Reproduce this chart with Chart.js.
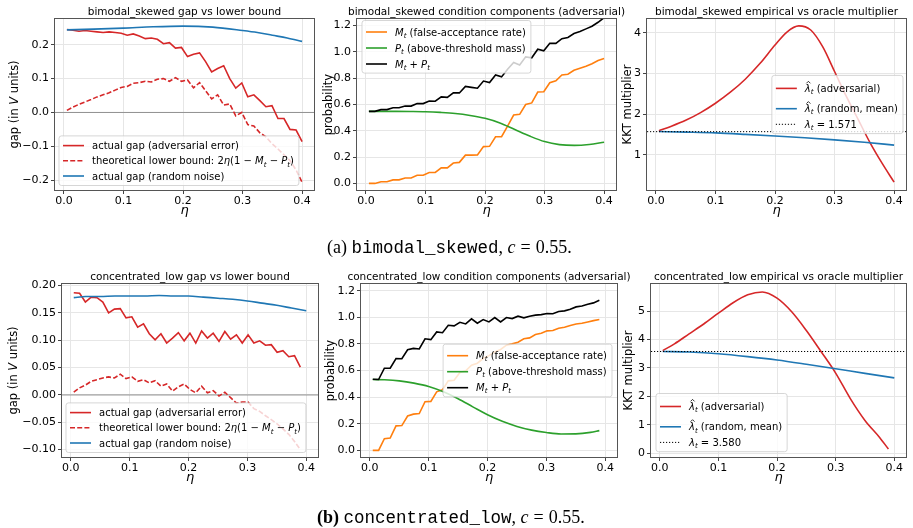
<!DOCTYPE html>
<html>
<head>
<meta charset="utf-8">
<script src="https://cdn.jsdelivr.net/npm/chart.js@4.4.0/dist/chart.umd.min.js"></script>
<style>
  html, body { margin: 0; background: #fff; }
  body { width: 913px; height: 528px; position: relative; overflow: hidden; }
  canvas { position: absolute; left: 0; top: 0; }
  .cap { position: absolute; font-family: "Liberation Serif"; font-size: 18px; line-height: 20px; white-space: nowrap; color: #000; }
  .cap .tt { font-family: "Liberation Mono"; font-size: 17.5px; }
  .cap .sp { display: inline-block; width: 5px; }
</style>
</head>
<body>
<canvas id="p1" width="913" height="528"></canvas>
<canvas id="p2" width="913" height="528"></canvas>
<canvas id="p3" width="913" height="528"></canvas>
<canvas id="p4" width="913" height="528"></canvas>
<canvas id="p5" width="913" height="528"></canvas>
<canvas id="p6" width="913" height="528"></canvas>
<div class="cap" style="left:327px;top:237px">(a) <span class="tt">bimodal_skewed</span>, <i>c</i><span class="sp"></span>=<span class="sp"></span>0.55.</div>
<div class="cap" style="left:317px;top:507px"><b>(b)</b> <span class="tt">concentrated_low</span>, <i>c</i><span class="sp"></span>=<span class="sp"></span>0.55.</div>
<script>
// ---- data: bimodal_skewed (top row) ----
const etaTop = [0.005, 0.0151, 0.0253, 0.0354, 0.0455, 0.0556, 0.0658, 0.0759, 0.0860, 0.0962,
  0.1063, 0.1164, 0.1265, 0.1367, 0.1468, 0.1569, 0.1671, 0.1772, 0.1873, 0.1974,
  0.2076, 0.2177, 0.2278, 0.2379, 0.2481, 0.2582, 0.2683, 0.2785, 0.2886, 0.2987,
  0.3088, 0.3190, 0.3291, 0.3392, 0.3494, 0.3595, 0.3696, 0.3797, 0.3899, 0.4000];
const gapAdvTop = [0.245, 0.243, 0.240, 0.242, 0.240, 0.238, 0.236, 0.238, 0.236, 0.234,
  0.228, 0.232, 0.226, 0.218, 0.220, 0.216, 0.203, 0.206, 0.190, 0.192,
  0.165, 0.172, 0.176, 0.150, 0.120, 0.130, 0.138, 0.100, 0.072, 0.087,
  0.046, 0.052, 0.035, 0.017, 0.020, -0.018, -0.018, -0.050, -0.052, -0.086];
const boundTop = [0.006, 0.016, 0.024, 0.031, 0.038, 0.046, 0.052, 0.058, 0.066, 0.074,
  0.077, 0.086, 0.088, 0.092, 0.090, 0.098, 0.100, 0.092, 0.103, 0.092,
  0.096, 0.073, 0.088, 0.064, 0.040, 0.052, 0.022, 0.025, -0.010, 0.000,
  -0.036, -0.040, -0.060, -0.072, -0.092, -0.108, -0.125, -0.142, -0.170, -0.206];
const rndEtaTop = [0.005, 0.05, 0.1, 0.15, 0.2, 0.25, 0.3, 0.325, 0.35, 0.375, 0.4];
const gapRndTop = [0.244, 0.246, 0.249, 0.253, 0.255, 0.252, 0.242, 0.236, 0.228, 0.220, 0.210];
const mAdvTop = [0.000, 0.000, 0.013, 0.013, 0.027, 0.027, 0.041, 0.041, 0.062, 0.062,
  0.083, 0.083, 0.118, 0.118, 0.155, 0.160, 0.215, 0.215, 0.217, 0.280,
  0.282, 0.355, 0.355, 0.435, 0.520, 0.525, 0.600, 0.612, 0.695, 0.697,
  0.765, 0.780, 0.825, 0.830, 0.860, 0.875, 0.890, 0.910, 0.935, 0.950];
const pEtaTop = [0.005, 0.025, 0.05, 0.075, 0.1, 0.125, 0.15, 0.175, 0.2, 0.225, 0.25, 0.275, 0.3, 0.325, 0.35, 0.375, 0.4];
const pAdvTop = [0.548, 0.548, 0.548, 0.547, 0.545, 0.540, 0.532, 0.517, 0.495, 0.460, 0.410, 0.360, 0.318, 0.295, 0.289, 0.296, 0.313];
const mpAdvTop = [0.548, 0.548, 0.561, 0.561, 0.575, 0.575, 0.589, 0.588, 0.608, 0.607,
  0.627, 0.625, 0.658, 0.654, 0.688, 0.688, 0.737, 0.730, 0.724, 0.778,
  0.767, 0.825, 0.810, 0.868, 0.920, 0.900, 0.962, 0.955, 1.020, 1.008,
  1.065, 1.065, 1.100, 1.110, 1.140, 1.155, 1.175, 1.195, 1.225, 1.260];
const lamEtaTop = [0.005, 0.025, 0.05, 0.075, 0.1, 0.125, 0.15, 0.175, 0.2, 0.22, 0.24, 0.26, 0.28, 0.3, 0.32, 0.34, 0.36, 0.38, 0.4];
const lamAdvTop = [1.595, 1.70, 1.85, 2.04, 2.27, 2.54, 2.86, 3.25, 3.70, 4.02, 4.17, 4.07, 3.66, 3.05, 2.43, 1.86, 1.29, 0.79, 0.33];
const lamRndEtaTop = [0.005, 0.05, 0.1, 0.15, 0.2, 0.25, 0.3, 0.35, 0.4];
const lamRndTop = [1.575, 1.56, 1.54, 1.505, 1.465, 1.42, 1.37, 1.31, 1.24];
const lamOracleTop = 1.571;

// ---- data: concentrated_low (bottom row) ----
const etaBot = [0.005, 0.0149, 0.0247, 0.0346, 0.0445, 0.0544, 0.0642, 0.0741, 0.0840, 0.0938,
  0.1037, 0.1136, 0.1235, 0.1333, 0.1432, 0.1531, 0.1629, 0.1728, 0.1827, 0.1926,
  0.2024, 0.2123, 0.2222, 0.2321, 0.2419, 0.2518, 0.2617, 0.2715, 0.2814, 0.2913,
  0.3012, 0.3110, 0.3209, 0.3308, 0.3406, 0.3505, 0.3604, 0.3703, 0.3801, 0.3900];
const gapAdvBot = [0.187, 0.186, 0.170, 0.179, 0.178, 0.170, 0.150, 0.157, 0.158, 0.141,
  0.143, 0.124, 0.130, 0.112, 0.101, 0.112, 0.095, 0.104, 0.114, 0.099,
  0.113, 0.095, 0.117, 0.104, 0.113, 0.098, 0.116, 0.102, 0.110, 0.095,
  0.110, 0.095, 0.099, 0.091, 0.092, 0.078, 0.081, 0.070, 0.072, 0.051];
const boundBot = [0.005, 0.013, 0.018, 0.025, 0.028, 0.031, 0.033, 0.031, 0.038, 0.030,
  0.033, 0.025, 0.028, 0.022, 0.026, 0.016, 0.020, 0.007, 0.015, 0.020,
  0.010, 0.004, 0.016, 0.004, 0.008, -0.002, 0.005, -0.005, -0.015, -0.013,
  -0.013, -0.025, -0.030, -0.038, -0.045, -0.053, -0.062, -0.072, -0.085, -0.100];
const rndEtaBot = [0.005, 0.025, 0.05, 0.075, 0.1, 0.125, 0.15, 0.175, 0.2, 0.225, 0.25, 0.275, 0.3, 0.325, 0.35, 0.375, 0.4];
const gapRndBot = [0.178, 0.180, 0.180, 0.181, 0.181, 0.181, 0.182, 0.181, 0.181, 0.179, 0.177, 0.175, 0.172, 0.168, 0.164, 0.159, 0.154];
const mAdvBot = [0.000, 0.000, 0.088, 0.092, 0.184, 0.186, 0.258, 0.272, 0.276, 0.365,
  0.368, 0.440, 0.455, 0.522, 0.526, 0.585, 0.598, 0.640, 0.655, 0.690,
  0.712, 0.740, 0.758, 0.790, 0.800, 0.812, 0.838, 0.845, 0.870, 0.880,
  0.898, 0.900, 0.918, 0.925, 0.938, 0.950, 0.955, 0.965, 0.975, 0.983];
const pEtaBot = [0.005, 0.025, 0.05, 0.075, 0.1, 0.125, 0.15, 0.175, 0.2, 0.225, 0.25, 0.275, 0.3, 0.325, 0.35, 0.375, 0.39];
const pAdvBot = [0.532, 0.530, 0.522, 0.505, 0.480, 0.440, 0.388, 0.327, 0.267, 0.218, 0.180, 0.152, 0.134, 0.123, 0.124, 0.135, 0.148];
const mpAdvBot = [0.534, 0.532, 0.617, 0.617, 0.690, 0.688, 0.756, 0.766, 0.762, 0.838,
  0.832, 0.890, 0.884, 0.940, 0.935, 0.962, 0.950, 0.988, 0.955, 0.983,
  0.965, 0.998, 0.965, 0.998, 0.990, 1.008, 0.996, 1.008, 1.016, 1.020,
  1.028, 1.026, 1.044, 1.048, 1.060, 1.078, 1.084, 1.098, 1.108, 1.128];
const lamEtaBot = [0.005, 0.025, 0.05, 0.075, 0.1, 0.125, 0.15, 0.175, 0.2, 0.225, 0.25, 0.275, 0.3, 0.325, 0.35, 0.375, 0.39];
const lamAdvBot = [3.61, 3.85, 4.20, 4.55, 4.93, 5.30, 5.58, 5.68, 5.46, 4.98, 4.32, 3.58, 2.82, 1.92, 1.15, 0.55, 0.14];
const lamRndEtaBot = [0.005, 0.05, 0.1, 0.15, 0.2, 0.25, 0.3, 0.35, 0.4];
const lamRndBot = [3.58, 3.56, 3.50, 3.40, 3.28, 3.13, 2.97, 2.81, 2.65];
const lamOracleBot = 3.580;

// ---- ticks ----
const xTicks = [0, 0.1, 0.2, 0.3, 0.4];
const xTickLabels = ['0.0', '0.1', '0.2', '0.3', '0.4'];
const gapTicksTop = [-0.2, -0.1, 0, 0.1, 0.2];
const gapLabelsTop = ['\u22120.2', '\u22120.1', '0.0', '0.1', '0.2'];
const gapTicksBot = [-0.10, -0.05, 0, 0.05, 0.10, 0.15, 0.20];
const gapLabelsBot = ['\u22120.10', '\u22120.05', '0.00', '0.05', '0.10', '0.15', '0.20'];
const probTicks = [0, 0.2, 0.4, 0.6, 0.8, 1.0, 1.2];
const probLabels = ['0.0', '0.2', '0.4', '0.6', '0.8', '1.0', '1.2'];
const kktTicksTop = [1, 2, 3, 4];
const kktLabelsTop = ['1', '2', '3', '4'];
const kktTicksBot = [0, 1, 2, 3, 4, 5];
const kktLabelsBot = ['0', '1', '2', '3', '4', '5'];

// ---- legend labels (i: italic, s: subscript, h: italic with hat) ----
const lblGapAdv = ['actual gap (adversarial error)'];
const lblBound = ['theoretical lower bound: 2', {i: '\u03b7'}, '(1 \u2212 ', {i: 'M'}, {s: 't'}, ' \u2212 ', {i: 'P'}, {s: 't'}, ')'];
const lblGapRnd = ['actual gap (random noise)'];
const lblM = [{i: 'M'}, {s: 't'}, ' (false-acceptance rate)'];
const lblP = [{i: 'P'}, {s: 't'}, ' (above-threshold mass)'];
const lblMP = [{i: 'M'}, {s: 't'}, ' + ', {i: 'P'}, {s: 't'}];
const lblLamAdv = [{h: '\u03bb'}, {s: 't'}, ' (adversarial)'];
const lblLamRnd = [{h: '\u03bb'}, {s: 't'}, ' (random, mean)'];
const lblOracle = v => [{i: '\u03bb'}, {s: 't'}, ' = ' + v.toFixed(3)];

const RED = '#d62728', BLUE = '#1f77b4', ORANGE = '#ff7f0e', GREEN = '#2ca02c', BLACK = '#000000';
const FONT = '"DejaVu Sans"';
const LW = 1.6;
const W = 913, H = 528, YW = 40, XH = 30;
const X_MIN = -0.015, X_MAX = 0.42;
const DASH = [5, 2.2], DOT = [1.2, 1.8];

const lgGap = {loc: 'll', dx: 4, dy: 4.5, dys: [13.2, 15.2, 15.2], bottom: 6};
const lgProbTop = {loc: 'ul', dx: 5, dy: 1.5, dys: [15, 16, 16], bottom: 5.6};
const lgProbBot = {loc: 'cr', dx: 5, dys: [15, 16, 16], bottom: 5.6};
const lgKktTop = {loc: 'cr', dx: 3, dys: [16.5, 20.3, 15.6], bottom: 5.8};
const lgKktBot = {loc: 'll', dx: 5, dy: 5.3, dys: [16.5, 20.3, 15.6], bottom: 5.8};

const panels = [
  {id: 'p1', area: [55, 19, 314, 190], yMin: -0.229, yMax: 0.276, yT: gapTicksTop, yL: gapLabelsTop,
   title: 'bimodal_skewed gap vs lower bound', ylabel: ['gap (in ', {i: 'V'}, ' units)'], ylabOff: 41, zero: 0, legend: lgGap,
   series: [
     {xs: etaTop, ys: gapAdvTop, color: RED, label: lblGapAdv},
     {xs: etaTop, ys: boundTop, color: RED, dash: DASH, label: lblBound},
     {xs: rndEtaTop, ys: gapRndTop, color: BLUE, smooth: true, label: lblGapRnd}]},
  {id: 'p2', area: [357, 19, 616, 190], yMin: -0.05, yMax: 1.25, yT: probTicks, yL: probLabels,
   title: 'bimodal_skewed condition components (adversarial)', ylabel: ['probability'], ylabOff: 29, legend: lgProbTop,
   series: [
     {xs: etaTop, ys: mAdvTop, color: ORANGE, label: lblM},
     {xs: pEtaTop, ys: pAdvTop, color: GREEN, smooth: true, label: lblP},
     {xs: etaTop, ys: mpAdvTop, color: BLACK, label: lblMP}]},
  {id: 'p3', area: [647, 19, 906, 190], yMin: 0.137, yMax: 4.34, yT: kktTicksTop, yL: kktLabelsTop,
   title: 'bimodal_skewed empirical vs oracle multiplier', ylabel: ['KKT multiplier'], ylabOff: 20, legend: lgKktTop, oracle: lamOracleTop,
   series: [
     {xs: lamEtaTop, ys: lamAdvTop, color: RED, smooth: true, label: lblLamAdv},
     {xs: lamRndEtaTop, ys: lamRndTop, color: BLUE, smooth: true, label: lblLamRnd}]},
  {id: 'p4', area: [62, 284, 318, 457], yMin: -0.1135, yMax: 0.203, yT: gapTicksBot, yL: gapLabelsBot,
   title: 'concentrated_low gap vs lower bound', ylabel: ['gap (in ', {i: 'V'}, ' units)'], ylabOff: 49, zero: 0, legend: lgGap,
   series: [
     {xs: etaBot, ys: gapAdvBot, color: RED, label: lblGapAdv},
     {xs: etaBot, ys: boundBot, color: RED, dash: DASH, label: lblBound},
     {xs: rndEtaBot, ys: gapRndBot, color: BLUE, smooth: true, label: lblGapRnd}]},
  {id: 'p5', area: [361, 284, 617, 457], yMin: -0.05, yMax: 1.25, yT: probTicks, yL: probLabels,
   title: 'concentrated_low condition components (adversarial)', ylabel: ['probability'], ylabOff: 31, legend: lgProbBot,
   series: [
     {xs: etaBot, ys: mAdvBot, color: ORANGE, label: lblM},
     {xs: pEtaBot, ys: pAdvBot, color: GREEN, smooth: true, label: lblP},
     {xs: etaBot, ys: mpAdvBot, color: BLACK, label: lblMP}]},
  {id: 'p6', area: [651, 284, 906, 457], yMin: -0.14, yMax: 5.96, yT: kktTicksBot, yL: kktLabelsBot,
   title: 'concentrated_low empirical vs oracle multiplier', ylabel: ['KKT multiplier'], ylabOff: 23, legend: lgKktBot, oracle: lamOracleBot,
   series: [
     {xs: lamEtaBot, ys: lamAdvBot, color: RED, smooth: true, label: lblLamAdv},
     {xs: lamRndEtaBot, ys: lamRndBot, color: BLUE, smooth: true, label: lblLamRnd}]}
];

// ---- rich text helpers ----
function segInfo(seg, fs) {
  if (typeof seg === 'string') return {t: seg, f: `${fs}px ${FONT}`, dy: 0};
  if (seg.i) return {t: seg.i, f: `italic ${fs}px ${FONT}`, dy: 0};
  if (seg.h) return {t: seg.h, f: `italic ${fs}px ${FONT}`, dy: 0, hat: true};
  return {t: seg.s, f: `italic ${fs * 0.7}px ${FONT}`, dy: fs * 0.22};
}
function richWidth(ctx, segs, fs) {
  let w = 0;
  segs.forEach(s => { const g = segInfo(s, fs); ctx.font = g.f; w += ctx.measureText(g.t).width; });
  return w;
}
function drawRich(ctx, segs, x, y, fs) {
  ctx.textAlign = 'left';
  ctx.textBaseline = 'alphabetic';
  segs.forEach(s => {
    const g = segInfo(s, fs);
    ctx.font = g.f;
    ctx.fillText(g.t, x, y + g.dy);
    const w = ctx.measureText(g.t).width;
    if (g.hat) {
      const cx = x + w * 0.6, base = y - fs * 0.86;
      ctx.save();
      ctx.strokeStyle = ctx.fillStyle;
      ctx.lineWidth = 0.8;
      ctx.beginPath();
      ctx.moveTo(cx - fs * 0.2, base);
      ctx.lineTo(cx, base - fs * 0.2);
      ctx.lineTo(cx + fs * 0.2, base);
      ctx.stroke();
      ctx.restore();
    }
    x += w;
  });
}
function boxPath(ctx, x, y, w, h, r) {
  ctx.beginPath();
  ctx.moveTo(x + r, y);
  ctx.arcTo(x + w, y, x + w, y + h, r);
  ctx.arcTo(x + w, y + h, x, y + h, r);
  ctx.arcTo(x, y + h, x, y, r);
  ctx.arcTo(x, y, x + w, y, r);
  ctx.closePath();
}

function drawLegend(ctx, a, lg, entries) {
  const fs = 10;
  ctx.save();
  let tw = 0;
  entries.forEach(e => { tw = Math.max(tw, richWidth(ctx, e.label, fs)); });
  const w = 4 + 21 + 8 + tw + 5;
  const h = lg.dys.reduce((s, d) => s + d, 0) + lg.bottom;
  let x0, y0;
  if (lg.loc === 'll') { x0 = a.left + lg.dx; y0 = a.bottom - lg.dy - h; }
  else if (lg.loc === 'ul') { x0 = a.left + lg.dx; y0 = a.top + lg.dy; }
  else { x0 = a.right - lg.dx - w; y0 = (a.top + a.bottom) / 2 - h / 2; }
  boxPath(ctx, x0, y0, w, h, 2.5);
  ctx.fillStyle = 'rgba(255,255,255,0.8)';
  ctx.fill();
  ctx.strokeStyle = 'rgba(204,204,204,0.8)';
  ctx.lineWidth = 1;
  ctx.stroke();
  let y = y0;
  entries.forEach((e, i) => {
    y += lg.dys[i];
    ctx.beginPath();
    ctx.setLineDash(e.dash || []);
    ctx.strokeStyle = e.color;
    ctx.lineWidth = e.lw || LW;
    ctx.moveTo(x0 + 4, y - 3.5);
    ctx.lineTo(x0 + 25, y - 3.5);
    ctx.stroke();
    ctx.setLineDash([]);
    ctx.fillStyle = '#000';
    drawRich(ctx, e.label, x0 + 33, y, fs);
  });
  ctx.restore();
}

function makeDeco(p) {
  return {
    id: 'deco',
    beforeDatasetsDraw(chart) {
      const {ctx, chartArea: a, scales: {y}} = chart;
      if (p.zero === undefined) return;
      const yy = y.getPixelForValue(p.zero);
      ctx.save();
      ctx.strokeStyle = 'rgba(128,128,128,0.85)';
      ctx.lineWidth = 1;
      ctx.beginPath();
      ctx.moveTo(a.left, yy);
      ctx.lineTo(a.right, yy);
      ctx.stroke();
      ctx.restore();
    },
    afterDatasetsDraw(chart) {
      const {ctx, chartArea: a, scales: {y}} = chart;
      const entries = p.series.map(s => ({color: s.color, dash: s.dash, label: s.label}));
      if (p.oracle !== undefined) {
        const yy = y.getPixelForValue(p.oracle);
        ctx.save();
        ctx.strokeStyle = BLACK;
        ctx.lineWidth = 1;
        ctx.setLineDash(DOT);
        ctx.beginPath();
        ctx.moveTo(a.left, yy);
        ctx.lineTo(a.right, yy);
        ctx.stroke();
        ctx.restore();
        entries.push({color: BLACK, dash: DOT, lw: 1, label: lblOracle(p.oracle)});
      }
      drawLegend(ctx, a, p.legend, entries);
    },
    afterDraw(chart) {
      const {ctx, chartArea: a} = chart;
      ctx.save();
      // axes frame
      ctx.strokeStyle = '#555';
      ctx.lineWidth = 1;
      ctx.strokeRect(a.left - 0.5, a.top - 0.5, a.right - a.left + 1, a.bottom - a.top + 1);
      ctx.fillStyle = '#000';
      // title
      ctx.font = `10.5px ${FONT}`;
      ctx.textAlign = 'center';
      ctx.textBaseline = 'alphabetic';
      ctx.fillText(p.title, (a.left + a.right) / 2, a.top - 4);
      // x label
      ctx.font = `italic 13px ${FONT}`;
      ctx.fillText('\u03b7', (a.left + a.right) / 2, a.bottom + 24);
      // y label
      ctx.translate(a.left - p.ylabOff, (a.top + a.bottom) / 2);
      ctx.rotate(-Math.PI / 2);
      const w = richWidth(ctx, p.ylabel, 11.5);
      drawRich(ctx, p.ylabel, -w / 2, 4, 11.5);
      ctx.restore();
    }
  };
}

function pts(xs, ys) {
  return xs.map((x, i) => ({x: x, y: ys[i]}));
}

Chart.defaults.font.family = 'DejaVu Sans';
Chart.defaults.font.size = 11;
Chart.defaults.color = '#000';

const gridOpts = {color: '#e6e6e6', lineWidth: 1, tickLength: 4, tickColor: '#444', drawTicks: true};

panels.forEach(p => {
  const [L, T, R, B] = p.area;
  new Chart(document.getElementById(p.id), {
    type: 'line',
    data: {
      datasets: p.series.map((s, i) => ({
        data: pts(s.xs, s.ys),
        borderColor: s.color,
        borderWidth: LW,
        borderDash: s.dash || [],
        pointRadius: 0,
        fill: false,
        tension: 0,
        cubicInterpolationMode: s.smooth ? 'monotone' : 'default',
        order: -i
      }))
    },
    options: {
      responsive: false,
      animation: false,
      events: [],
      layout: {padding: {left: L - YW, top: T, right: W - R, bottom: H - B - XH}},
      plugins: {legend: {display: false}, tooltip: {enabled: false}, title: {display: false}},
      scales: {
        x: {
          type: 'linear', min: X_MIN, max: X_MAX,
          afterFit: s => { s.height = XH; },
          afterBuildTicks: s => { s.ticks = xTicks.map(v => ({value: v})); },
          ticks: {autoSkip: false, maxRotation: 0, padding: 1, callback: (v, i) => xTickLabels[i]},
          grid: gridOpts,
          border: {display: false}
        },
        y: {
          type: 'linear', min: p.yMin, max: p.yMax,
          afterFit: s => { s.width = YW; },
          afterBuildTicks: s => { s.ticks = p.yT.map(v => ({value: v})); },
          ticks: {autoSkip: false, padding: 2, callback: (v, i) => p.yL[i]},
          grid: gridOpts,
          border: {display: false}
        }
      }
    },
    plugins: [makeDeco(p)]
  });
});
</script>
</body>
</html>
